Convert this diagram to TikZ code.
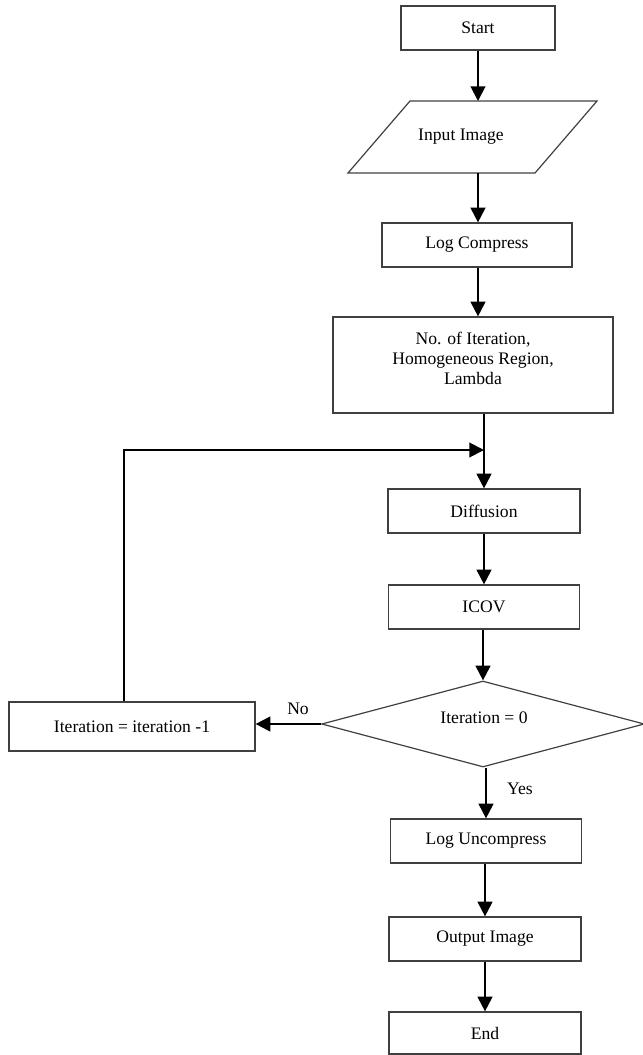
\documentclass[tikz,border=0pt]{standalone}
\usepackage{fontspec}
\setmainfont{Liberation Serif}
\usetikzlibrary{arrows.meta,shapes.geometric}
\begin{document}
\begin{tikzpicture}[x=0.75pt,y=-0.75pt,
  every node/.style={font=\fontsize{13.2pt}{15pt}\selectfont, text=black},
  box/.style={draw=black!75, line width=0.9pt, rectangle, inner sep=0pt},
  arr/.style={draw=black, line width=1.5pt, -{Triangle[length=11pt,width=11pt]}},
  outline/.style={draw=black!75, line width=0.9pt, line join=miter}
]
\useasboundingbox (0,0) rectangle (642,1055);

% nodes
\node[box, minimum width=115.5pt, minimum height=33pt] (start) at (478,28) {Start};
\node (inp) at (461,137) {Input Image};
\draw[outline] (410,101) -- (597,101) -- (535,173) -- (348,173) -- cycle;
\coordinate (inptop) at (478,101);
\coordinate (inpbot) at (478,173);
\node[box, minimum width=142.5pt, minimum height=33pt] (lc) at (477,245) {Log Compress};
\node[box, minimum width=210pt, minimum height=72pt] (param) at (473,365) {};
\node[align=center] (paramtxt) at (473,358) {No. of Iteration,\\Homogeneous Region,\\Lambda};
\coordinate (junc) at (484,450);
\node[box, minimum width=144pt, minimum height=33pt] (diff) at (484,511) {Diffusion};
\node[box, minimum width=143.25pt, minimum height=33pt] (icov) at (484,607) {ICOV};
\node[draw=black!75, line width=0.9pt, diamond, inner sep=0pt, minimum width=242pt, minimum height=64.5pt] (dec) at (483,724) {};
\node (dectxt) at (484,718) {Iteration = 0};
\node[box, minimum width=184.5pt, minimum height=36.75pt] (iter) at (132,726.5) {Iteration = iteration -1};
\node (no) at (298,709) {No};
\node (yes) at (520,789) {Yes};
\node[box, minimum width=143.25pt, minimum height=33pt] (lu) at (486,841) {Log Uncompress};
\node[box, minimum width=144pt, minimum height=33pt] (out) at (485,939) {Output Image};
\node[box, minimum width=144pt, minimum height=31.5pt] (end) at (485,1033) {End};

% connectors
\draw[arr] (start.south -| inptop) -- (inptop);
\draw[arr] (inpbot) -- (inpbot |- lc.north);
\draw[arr] (lc.south -| inpbot) -- (inpbot |- param.north);
\draw[arr] (param.south -| junc) -- (junc |- diff.north);
\draw[arr] (diff.south -| junc) -- (junc |- icov.north);
\draw[arr] (icov.south -| dec.north) -- (dec.north);
\draw[arr] (dec.west) -- (dec.west -| iter.east);
\draw[arr] ([xshift=-6pt]iter.north) -- ([xshift=-6pt]iter.north |- junc) -- (junc);
\draw[arr] (dec.south -| lu.north) -- (lu.north);
\draw[arr] (lu.south -| out.north) -- (out.north);
\draw[arr] (out.south) -- (end.north);
\end{tikzpicture}
\end{document}
